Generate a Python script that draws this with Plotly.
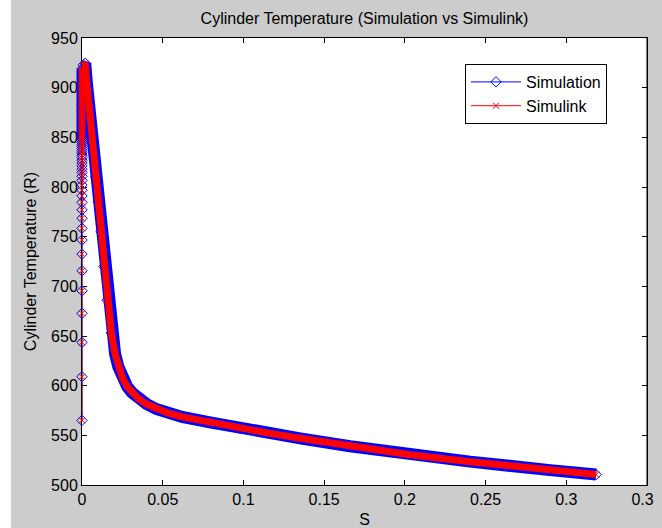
import plotly.graph_objects as go

# ---- data ----
# rising part at S = 0
t_rise = [565, 609, 643.6, 672.8, 695.5, 715.7, 732.5, 746.6, 758.4, 768.5, 777, 784.5,
          791, 796.8, 802, 806.6, 810.8, 814.6, 818, 821.2, 824.2, 827, 829.6, 832,
          834.4, 836.6, 838.8, 841, 843, 845, 847, 849, 850, 851, 852, 853, 854, 855,
          856, 857, 858, 859, 860, 861, 862, 863, 864, 865, 866, 867, 868, 869, 870,
          871, 872, 873, 874, 875, 876, 877, 878, 879, 880, 881, 882, 883, 884, 885,
          886, 887, 888, 889, 890, 891, 892, 893, 894, 895, 896, 897, 898, 899, 900,
          901, 902, 903, 904, 905, 906, 907, 908, 909, 910, 911, 912, 913, 914, 915,
          916, 917, 918, 919]
s_rise = [0.0] * len(t_rise)

# peak and decay
s_decay = [0.0, 0.0008, 0.0020, 0.0030, 0.0045, 0.0068, 0.0085, 0.0100, 0.0118, 0.0135,
           0.0155, 0.0182, 0.0205, 0.0225, 0.0250, 0.0280, 0.0310, 0.0350, 0.0400,
           0.0460, 0.0530, 0.0620, 0.0793, 0.0979, 0.1165, 0.1351, 0.1660, 0.2032,
           0.2404, 0.2900, 0.3185]
t_decay = [919, 923, 924.5, 905, 880, 847, 810, 785, 755, 720,
           686, 653, 632, 619, 608, 599, 593, 587, 581.5,
           576.5, 572.5, 568.5, 563, 557, 552, 547, 539, 530.5,
           523.5, 515, 510.5]

s_simulation = s_rise + s_decay[1:]
t_simulation = t_rise + t_decay[1:]
s_simulink = list(s_simulation)
t_simulink = list(t_simulation)

x_ticks = [0, 0.05, 0.1, 0.15, 0.2, 0.25, 0.3, 0.35]
x_ticktext = ["0", "0.05", "0.1", "0.15", "0.2", "0.25", "0.3", "0.35"]
y_ticks = [500, 550, 600, 650, 700, 750, 800, 850, 900, 950]

BLUE = "#0000ff"
RED = "#ff0000"
FONT = "Liberation Sans, Arial, sans-serif"

W, H = 662, 528
L, R, T, B = 82, 15, 38, 43
PW, PH = W - L - R, H - T - B

fig = go.Figure()

# dense-marker band of the Simulation series
fig.add_trace(go.Scatter(x=s_decay, y=t_decay, mode="lines",
                         line=dict(color=BLUE, width=12),
                         showlegend=False, hoverinfo="skip"))
fig.add_trace(go.Scatter(x=s_simulation, y=t_simulation, mode="lines+markers", name="Simulation",
                         line=dict(color=BLUE, width=1),
                         marker=dict(symbol="diamond-open", size=8, color=BLUE,
                                     line=dict(color=BLUE, width=1)),
                         cliponaxis=False))
# dense-marker band of the Simulink series
fig.add_trace(go.Scatter(x=s_decay, y=t_decay, mode="lines",
                         line=dict(color=RED, width=7),
                         showlegend=False, hoverinfo="skip"))
fig.add_trace(go.Scatter(x=s_simulink, y=t_simulink, mode="lines+markers", name="Simulink",
                         line=dict(color=RED, width=1),
                         marker=dict(symbol="x-thin-open", size=6, color=RED,
                                     line=dict(color=RED, width=1)),
                         cliponaxis=False))

axis_common = dict(showline=True, linecolor="black", linewidth=1, mirror="allticks",
                   ticks="inside", ticklen=5, tickwidth=1, tickcolor="black",
                   showgrid=False, zeroline=False, layer="below traces", automargin=False,
                   ticklabeloverflow="allow",
                   tickfont=dict(family=FONT, size=16, color="black"))

fig.update_layout(
    width=W, height=H,
    margin=dict(l=L, r=R, t=T, b=B, autoexpand=False),
    paper_bgcolor="#cccccc", plot_bgcolor="white",
    font=dict(family=FONT, size=16, color="black"),
    title=dict(text="Cylinder Temperature (Simulation vs Simulink)", x=0.5, xref="paper",
               xanchor="center", y=1 - 18 / H, yanchor="middle", automargin=False,
               font=dict(family=FONT, size=16, color="black")),
    xaxis=dict(range=[0, 0.350001], tickvals=x_ticks, ticktext=x_ticktext,
               title=dict(text="S", standoff=6, font=dict(family=FONT, size=16)),
               **axis_common),
    yaxis=dict(range=[500, 950], tickvals=y_ticks,
               title=dict(text="Cylinder Temperature (R)", standoff=10,
                          font=dict(family=FONT, size=16)),
               **axis_common),
    legend=dict(x=(607 - L) / PW, y=(H - B - 64) / PH, xanchor="right", yanchor="top",
                bgcolor="white", bordercolor="black", borderwidth=1,
                font=dict(family=FONT, size=16, color="black"), itemwidth=50),
    shapes=[
        dict(type="rect", xref="paper", yref="paper",
             x0=-L / PW, x1=(11 - L) / PW, y0=-B / PH, y1=(H - B) / PH,
             fillcolor="white", line=dict(width=0), layer="below"),
        dict(type="rect", xref="paper", yref="paper",
             x0=(654 - L) / PW, x1=(W - L) / PW, y0=-B / PH, y1=-1 / PH,
             fillcolor="#cccccc", line=dict(width=0), layer="above"),
        dict(type="line", xref="paper", yref="paper", x0=1, x1=1, y0=0, y1=1,
             line=dict(color="black", width=1), layer="above"),
    ],
)

fig.write_html(
    "out.html", config={"displayModeBar": False},
    post_script=("var s=document.createElement('style');"
                 "s.textContent='html,body{margin:0;padding:0;overflow:hidden;}"
                 "::-webkit-scrollbar{display:none;width:0;height:0;}';"
                 "document.head.appendChild(s);"
                 "document.body.style.margin='0';"),
)
